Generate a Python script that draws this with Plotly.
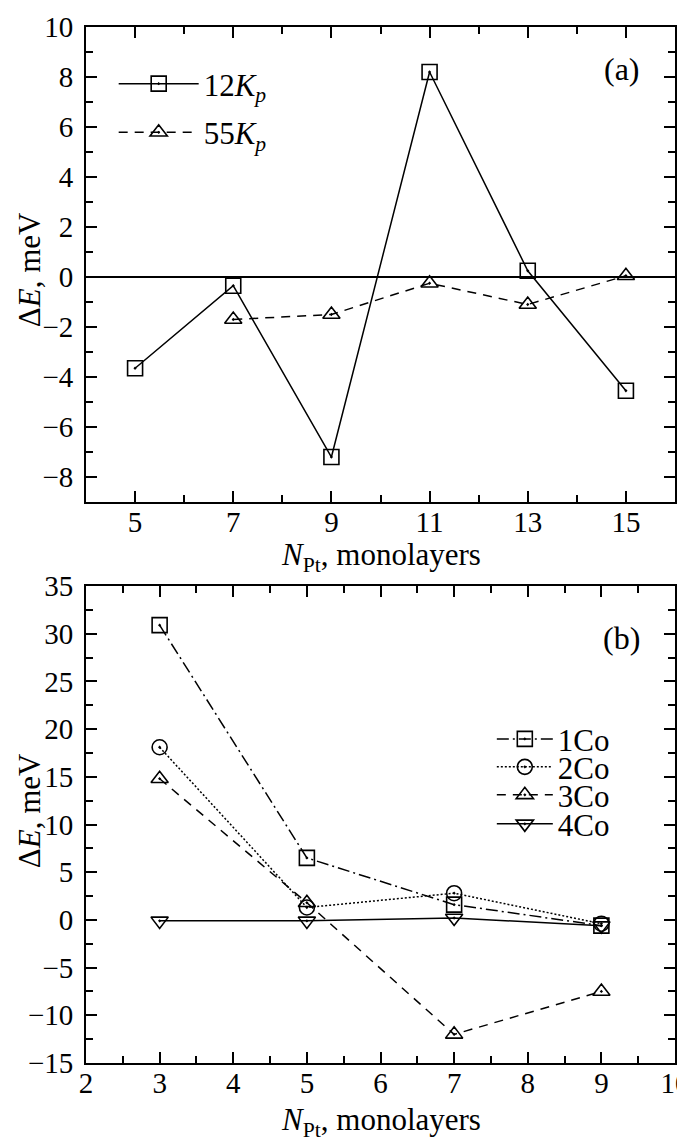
import plotly.graph_objects as go
from plotly.subplots import make_subplots

# panel (a)
n_a = [5, 7, 9, 11, 13, 15]
k12 = [-3.65, -0.35, -7.2, 8.2, 0.25, -4.55]
n_a55 = [7, 9, 11, 13, 15]
k55 = [-1.7, -1.5, -0.25, -1.1, 0.05]

# panel (b)
n_b = [3, 5, 7, 9]
co1 = [30.9, 6.5, 1.6, -0.6]
co2 = [18.1, 1.3, 2.8, -0.4]
co3 = [14.8, 1.8, -12.0, -7.5]
co4 = [-0.1, -0.1, 0.2, -0.6]

FONT = "Liberation Serif, Times New Roman, serif"
fig = make_subplots(rows=2, cols=1)

mk = dict(size=15, color="black", line=dict(width=1.6, color="black"))
fig.add_trace(go.Scatter(x=n_a, y=k12, mode="lines+markers", name="12<i>K<sub>p</sub></i>",
                         line=dict(color="black", width=1.5),
                         marker=dict(symbol="square-open-dot", **mk), legend="legend"), row=1, col=1)
fig.add_trace(go.Scatter(x=n_a55, y=k55, mode="lines+markers", name="55<i>K<sub>p</sub></i>",
                         line=dict(color="black", width=1.5, dash="9px,7px"),
                         marker=dict(symbol="triangle-up-open-dot", **mk), legend="legend2"), row=1, col=1)

series_b = [("1Co", co1, "12px,4px,2px,4px", "square-open-dot"),
            ("2Co", co2, "2px,2px", "circle-open-dot"),
            ("3Co", co3, "9px,7px", "triangle-up-open-dot"),
            ("4Co", co4, "solid", "triangle-down-open-dot")]
for i, (name, ys, dash, sym) in enumerate(series_b):
    fig.add_trace(go.Scatter(x=n_b, y=ys, mode="lines+markers", name=name,
                             line=dict(color="black", width=1.5, dash=dash),
                             marker=dict(symbol=sym, **mk), legend="legend%d" % (i + 3)), row=2, col=1)

ax = dict(showline=True, linecolor="black", linewidth=1.8, mirror="ticks", ticks="inside",
          ticklen=11, tickwidth=1.5, tickcolor="black", showgrid=False, automargin=False,
          tickfont=dict(family=FONT, size=29, color="black"),
          minor=dict(ticks="inside", ticklen=7, tickwidth=1.5, tickcolor="black", showgrid=False))

fig.update_xaxes(ax)
fig.update_yaxes(ax)
fig.update_xaxes(range=[4, 16], tick0=5, dtick=2, minor_dtick=1, domain=[0, 1], ticklabelstandoff=-7,
                 row=1, col=1)
fig.update_yaxes(range=[-9, 10], dtick=2, minor_dtick=1, domain=[0.5415, 1], ticklabelstandoff=5,
                 zeroline=True, zerolinecolor="black", zerolinewidth=2,
                 row=1, col=1)
fig.update_xaxes(range=[2, 10], dtick=1, minor_dtick=0.5, domain=[0, 1], ticklabelstandoff=-7,
                 row=2, col=1)
fig.update_yaxes(range=[-15, 35], dtick=5, minor_dtick=2.5, domain=[0, 0.4604], zeroline=False,
                 ticklabelstandoff=5, row=2, col=1)

tf = dict(family=FONT, size=31, color="black")
xt = "<i>N</i><sub>Pt</sub>, monolayers"
yt = "Δ<i>E</i>, meV"
# axis titles
fig.add_annotation(text=xt, x=0.5, y=0.488, xref="paper", yref="paper", showarrow=False, font=tf,
                   xanchor="center", yanchor="middle")
fig.add_annotation(text=xt, x=0.5, y=-0.057, xref="paper", yref="paper", showarrow=False, font=tf,
                   xanchor="center", yanchor="middle")
fig.add_annotation(text=yt, x=-0.0968, y=0.5415 + 0.4585 * 0.49, xref="paper", yref="paper",
                   showarrow=False, textangle=-90, font=tf, xanchor="center", yanchor="middle")
fig.add_annotation(text=yt, x=-0.0968, y=0.4604 * 0.53, xref="paper", yref="paper",
                   showarrow=False, textangle=-90, font=tf, xanchor="center", yanchor="middle")

fig.add_annotation(text="(a)", x=0.91, y=0.912, xref="x domain", yref="y domain",
                   xanchor="center", yanchor="middle",
                   showarrow=False, font=dict(family=FONT, size=32, color="black"))
fig.add_annotation(text="(b)", x=0.91, y=0.89, xref="x2 domain", yref="y2 domain",
                   xanchor="center", yanchor="middle",
                   showarrow=False, font=dict(family=FONT, size=32, color="black"))

leg = dict(font=dict(family=FONT, size=31, color="black"), bgcolor="rgba(0,0,0,0)",
           xanchor="left", yanchor="middle", borderwidth=0, visible=True)
fig.update_layout(
    width=685, height=1138,
    margin=dict(l=78, r=18, t=19, b=83),
    paper_bgcolor="white", plot_bgcolor="white",
    font=dict(family=FONT, size=29, color="black"),
    showlegend=True,
    legend=dict(x=0.047, y=0.945, itemwidth=80, **leg),
    legend2=dict(x=0.047, y=0.898, itemwidth=80, **leg),
    legend3=dict(x=0.689, y=0.3125, itemwidth=56, **leg),
    legend4=dict(x=0.689, y=0.2855, itemwidth=56, **leg),
    legend5=dict(x=0.689, y=0.2585, itemwidth=56, **leg),
    legend6=dict(x=0.689, y=0.2305, itemwidth=56, **leg),
)

fig.write_html("out.html")
